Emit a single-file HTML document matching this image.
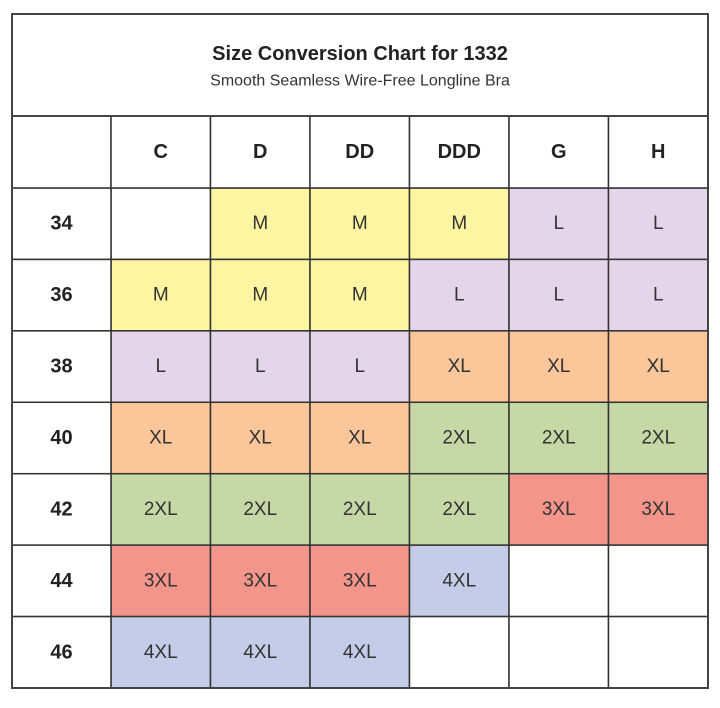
<!DOCTYPE html>
<html><head><meta charset="utf-8"><style>
body{margin:0;background:#fff;width:720px;height:708px;position:relative;font-family:"Liberation Sans",sans-serif;overflow:hidden}
#chart{position:absolute;left:0;top:0}
</style></head><body>
<svg id="chart" width="720" height="708"></svg>
<script>
const cups=["C","D","DD","DDD","G","H"];
const bands=["34","36","38","40","42","44","46"];
const sizes=[
["","M","M","M","L","L"],
["M","M","M","L","L","L"],
["L","L","L","XL","XL","XL"],
["XL","XL","XL","2XL","2XL","2XL"],
["2XL","2XL","2XL","2XL","3XL","3XL"],
["3XL","3XL","3XL","4XL","",""],
["4XL","4XL","4XL","","",""]];
const colors={"M":"#fdf5a2","L":"#e4d5ea","XL":"#fbc69a","2XL":"#c5d8a6","3XL":"#f4958b","4XL":"#c4cce7","":"#ffffff"};
const NS="http://www.w3.org/2000/svg";
const svg=document.getElementById('chart');
const L=12,R=708,T=14,TB=116,HB=188,B=688,FC=111;
const colW=(R-FC)/cups.length, rowH=(B-HB)/bands.length;
const xOf=i=>FC+i*colW, yOf=j=>HB+j*rowH;
function mk(tag,attrs){const e=document.createElementNS(NS,tag);for(const k in attrs)e.setAttribute(k,attrs[k]);svg.appendChild(e);return e;}
function txt(x,y,s,size,weight,fill){const t=mk('text',{x:x,y:y,'text-anchor':'middle','dominant-baseline':'central','font-size':size,'font-weight':weight,fill:fill,'font-family':'Liberation Sans, sans-serif'});t.textContent=s;return t;}
// cells
sizes.forEach((row,j)=>row.forEach((s,i)=>{
 const r=mk('rect',{x:xOf(i),y:yOf(j),width:colW,height:rowH,fill:colors[s],stroke:'#333','stroke-width':1.5});
 
 
 if(s){const t=txt(xOf(i)+colW/2,yOf(j)+rowH/2,s,19,'normal','#333');
 
 }
}));
// band labels
bands.forEach((b,j)=>{
 const r=mk('rect',{x:L,y:yOf(j),width:FC-L,height:rowH,fill:'#fff',stroke:'#333','stroke-width':1.5});
 
 
 const t=txt((L+FC)/2,yOf(j)+rowH/2,b,20,'bold','#222');
 
 
});
// header
const h0=mk('rect',{x:L,y:TB,width:FC-L,height:HB-TB,fill:'#fff',stroke:'#333','stroke-width':1.5});


cups.forEach((c,i)=>{
 const r=mk('rect',{x:xOf(i),y:TB,width:colW,height:HB-TB,fill:'#fff',stroke:'#333','stroke-width':1.5});
 
 
 const t=txt(xOf(i)+colW/2,(TB+HB)/2,c,20,'bold','#222');
 
 
});
// title
const tb=mk('rect',{x:L,y:T,width:R-L,height:TB-T,fill:'#fff',stroke:'#444','stroke-width':2});


const t1=txt((L+R)/2,54,'Size Conversion Chart for 1332',20,'bold','#222');


const t2=txt((L+R)/2,81,'Smooth Seamless Wire-Free Longline Bra',16,'normal','#333');


const ob=mk('rect',{x:L,y:T,width:R-L,height:B-T,fill:'none',stroke:'#444','stroke-width':2});


</script>
</body></html>
